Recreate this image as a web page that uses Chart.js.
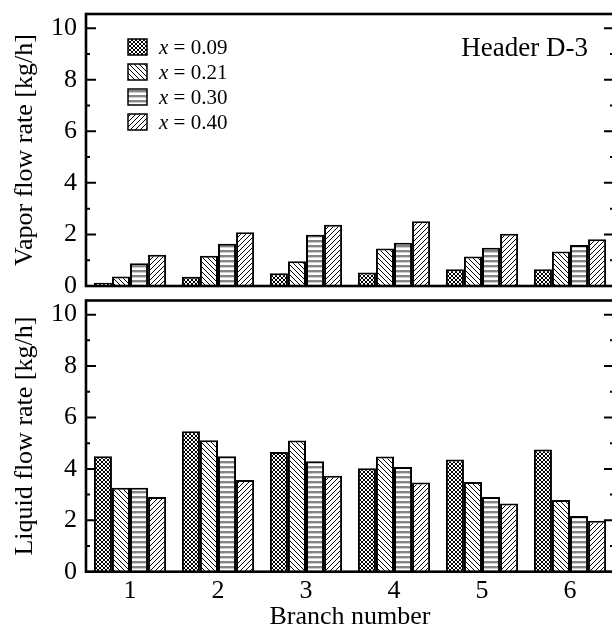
<!DOCTYPE html>
<html>
<head>
<meta charset="utf-8">
<script src="https://cdn.jsdelivr.net/npm/chart.js@4/dist/chart.umd.min.js"></script>
<style>
  html, body { margin: 0; padding: 0; background: #fff; overflow: hidden; }
  #wrap { position: relative; width: 612px; height: 629px; overflow: hidden; }
  #c1 { position: absolute; left: 0; top: 0; }
  #c2 { position: absolute; left: 0; top: 296px; }
</style>
</head>
<body>
<div id="wrap">
  <canvas id="c1" width="616" height="300"></canvas>
  <canvas id="c2" width="616" height="340"></canvas>
</div>
<script>
const BRANCHES = ['1', '2', '3', '4', '5', '6'];
const QUALITIES = ['0.09', '0.21', '0.30', '0.40'];
const Y_TICKS = [0, 2, 4, 6, 8, 10];
const Y_MINOR = [1, 3, 5, 7, 9];

// vapor flow rate [kg/h], one array per quality
const VAPOR_009 = [0.13, 0.36, 0.49, 0.52, 0.65, 0.65];
const VAPOR_021 = [0.37, 1.17, 0.96, 1.45, 1.14, 1.34];
const VAPOR_030 = [0.88, 1.64, 1.99, 1.68, 1.48, 1.59];
const VAPOR_040 = [1.21, 2.08, 2.38, 2.51, 2.03, 1.81];

// liquid flow rate [kg/h]
const LIQUID_009 = [4.49, 5.46, 4.66, 4.02, 4.36, 4.75];
const LIQUID_021 = [3.27, 5.11, 5.10, 4.48, 3.49, 2.79];
const LIQUID_030 = [3.27, 4.49, 4.30, 4.07, 2.91, 2.17];
const LIQUID_040 = [2.91, 3.57, 3.73, 3.47, 2.65, 1.98];

const FONT = '"Liberation Serif", "Times New Roman", serif';

function makePattern(kind) {
  const s = kind === 'cross' ? 4 : 5;
  const c = document.createElement('canvas');
  c.width = s; c.height = s;
  const g = c.getContext('2d');
  g.fillStyle = '#fff';
  g.fillRect(0, 0, s, s);
  g.strokeStyle = '#000';
  g.lineWidth = 1;
  const seg = (x1, y1, x2, y2) => { g.beginPath(); g.moveTo(x1, y1); g.lineTo(x2, y2); g.stroke(); };
  if (kind === 'cross' || kind === 'back') {
    seg(-1, -1, s + 1, s + 1);
  }
  if (kind === 'cross' || kind === 'fwd') {
    seg(-1, s + 1, s + 1, -1);
    seg(-1, 1, 1, -1);
    seg(s - 1, s + 1, s + 1, s - 1);
  }
  if (kind === 'back') {
    seg(-1, s - 1, 1, s + 1);
    seg(s - 1, -1, s + 1, 1);
  }
  if (kind === 'horiz') {
    g.fillStyle = '#858585';
    g.fillRect(0, 0, s, 2.4);
  }
  return g.createPattern(c, 'repeat');
}

const PATTERNS = [makePattern('cross'), makePattern('back'), makePattern('horiz'), makePattern('fwd')];

function datasets(rows) {
  return rows.map((data, i) => ({
    label: 'x = ' + QUALITIES[i],
    data,
    backgroundColor: PATTERNS[i],
    borderColor: '#000',
    borderWidth: 2,
    borderSkipped: 'start',
    categoryPercentage: 0.82,
    barPercentage: 1.0,
  }));
}

const framePlugin = {
  id: 'frame',
  afterDatasetsDraw(chart) {
    const { ctx, chartArea: a, scales: { y } } = chart;
    ctx.save();
    ctx.strokeStyle = '#000';
    ctx.lineWidth = 2;
    const tick = (v, len) => {
      const py = y.getPixelForValue(v);
      ctx.beginPath();
      ctx.moveTo(a.left, py); ctx.lineTo(a.left + len, py);
      ctx.moveTo(a.right, py); ctx.lineTo(a.right - len, py);
      ctx.stroke();
    };
    Y_TICKS.forEach(v => tick(v, 10));
    Y_MINOR.forEach(v => tick(v, 4));
    ctx.lineWidth = 2.6;
    ctx.strokeRect(a.left, a.top, a.right - a.left, a.bottom - a.top);
    ctx.restore();
  }
};

const legendPlugin = {
  id: 'boxLegend',
  afterDraw(chart) {
    const { ctx } = chart;
    ctx.save();
    chart.data.datasets.forEach((ds, i) => {
      const top = 39 + i * 25;
      ctx.fillStyle = ds.backgroundColor;
      ctx.fillRect(128, top, 19, 16);
      ctx.strokeStyle = '#000';
      ctx.lineWidth = 1.5;
      ctx.strokeRect(128, top, 19, 16);
      ctx.fillStyle = '#000';
      ctx.textBaseline = 'alphabetic';
      ctx.textAlign = 'left';
      ctx.font = 'italic 21px ' + FONT;
      ctx.fillText('x', 159, top + 15);
      const w = ctx.measureText('x').width;
      ctx.font = '21px ' + FONT;
      ctx.fillText(' = ' + QUALITIES[i], 159 + w, top + 15);
    });
    ctx.font = '27px ' + FONT;
    ctx.textAlign = 'right';
    ctx.fillText('Header D-3', 588, 56);
    ctx.restore();
  }
};

function yScale(title) {
  return {
    min: 0,
    max: 10.55,
    afterBuildTicks: s => { s.ticks = Y_TICKS.map(v => ({ value: v })); },
    afterFit: s => { s.width = 86; s.paddingTop = 0; s.paddingBottom = 0; },
    grid: { display: false, drawTicks: false },
    border: { display: false },
    ticks: { color: '#000', padding: 9, font: { family: FONT, size: 26, lineHeight: 1 } },
    title: { display: true, text: title, color: '#000', padding: { top: 10, bottom: 0 },
             font: { family: FONT, size: 26, lineHeight: 1.2 } },
  };
}

const baseOptions = {
  responsive: false,
  animation: false,
  plugins: { legend: { display: false }, tooltip: { enabled: false } },
};

new Chart(document.getElementById('c1').getContext('2d'), {
  type: 'bar',
  data: { labels: BRANCHES, datasets: datasets([VAPOR_009, VAPOR_021, VAPOR_030, VAPOR_040]) },
  options: {
    ...baseOptions,
    layout: { padding: { top: 14, bottom: 14, left: 0, right: 2 } },
    scales: {
      x: { display: false, offset: true },
      y: yScale('Vapor flow rate [kg/h]'),
    },
  },
  plugins: [framePlugin, legendPlugin],
});

new Chart(document.getElementById('c2').getContext('2d'), {
  type: 'bar',
  data: { labels: BRANCHES, datasets: datasets([LIQUID_009, LIQUID_021, LIQUID_030, LIQUID_040]) },
  options: {
    ...baseOptions,
    layout: { padding: { top: 4.5, bottom: 0, left: 0, right: 2 } },
    scales: {
      x: {
        offset: true,
        afterFit: s => { s.height = 64.3; s.paddingLeft = 0; s.paddingRight = 0; },
        grid: { display: false, drawTicks: false },
        border: { display: false },
        ticks: { color: '#000', padding: 6, font: { family: FONT, size: 26, lineHeight: 1 } },
        title: { display: true, text: 'Branch number', color: '#000', padding: { top: 0, bottom: 3 },
                 font: { family: FONT, size: 26, lineHeight: 1.2 } },
      },
      y: yScale('Liquid flow rate [kg/h]'),
    },
  },
  plugins: [framePlugin],
});
</script>
</body>
</html>
